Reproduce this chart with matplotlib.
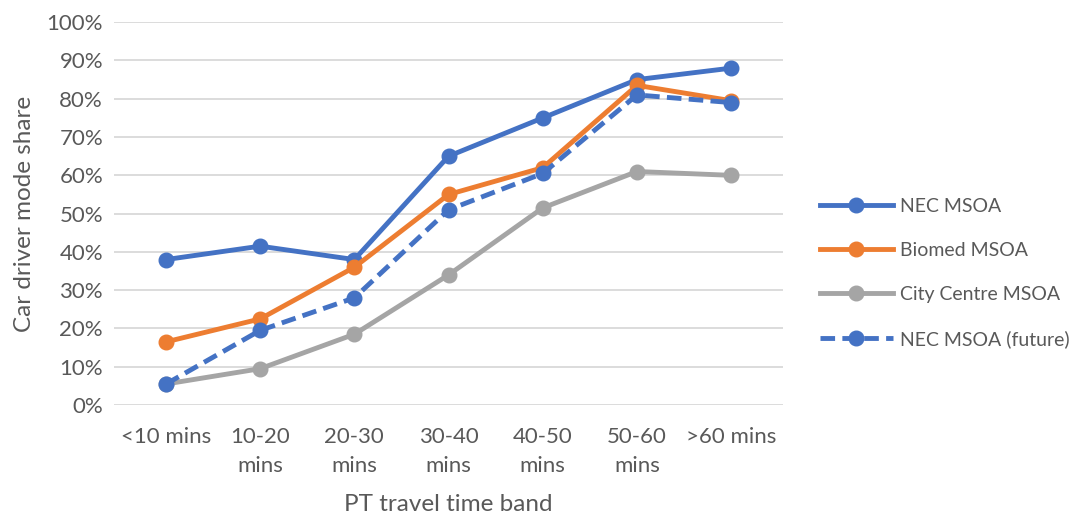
import matplotlib
matplotlib.use("Agg")
import matplotlib.pyplot as plt
from matplotlib.ticker import FuncFormatter

categories = ["<10 mins", "10-20\nmins", "20-30\nmins", "30-40\nmins", "40-50\nmins", "50-60\nmins", ">60 mins"]
nec = [38, 41.5, 38, 65, 75, 85, 88]
biomed = [16.5, 22.5, 36, 55, 62, 83.5, 79.5]
city = [5.5, 9.5, 18.5, 34, 51.5, 61, 60]
nec_future = [5.5, 19.5, 28, 51, 60.5, 81, 79]

plt.rcParams['font.family'] = ['Lato', 'DejaVu Sans']
txt = '#595959'

fig = plt.figure(figsize=(10.77, 5.16), dpi=100)
ax = fig.add_axes([0.106, 0.215, 0.621, 0.742])
x = list(range(len(categories)))

ax.plot(x, nec, color='#4472C4', lw=3.5, marker='o', ms=10.5, label='NEC MSOA', zorder=3)
ax.plot(x, biomed, color='#ED7D31', lw=3.5, marker='o', ms=10.5, label='Biomed MSOA', zorder=4)
ax.plot(x, city, color='#A5A5A5', lw=3.5, marker='o', ms=10.5, label='City Centre MSOA', zorder=2)
ax.plot(x, nec_future, color='#4472C4', lw=3.5, ls=(0, (3, 1.5)), marker='o', ms=10.5,
        label='NEC MSOA (future)', zorder=5)

ax.set_ylim(0, 100)
ax.set_yticks(range(0, 101, 10))
ax.yaxis.set_major_formatter(FuncFormatter(lambda v, p: f"{int(v)}%"))
ax.set_xlim(-0.55, 6.55)
ax.set_xticks(x)
ax.set_xticklabels(categories, linespacing=1.55)
ax.grid(axis='y', color='#D9D9D9', lw=1.3)
ax.set_axisbelow(True)
for s in ax.spines.values():
    s.set_visible(False)
ax.tick_params(axis='y', length=0, labelsize=16, colors=txt, pad=8)
ax.tick_params(axis='x', length=0, labelsize=16, colors=txt, pad=16)
ax.set_ylabel('Car driver mode share', fontsize=17.5, color=txt, labelpad=8)
ax.set_xlabel('PT travel time band', fontsize=17.5, color=txt, labelpad=13)

leg = fig.legend(loc='center left', bbox_to_anchor=(0.745, 0.471), frameon=False,
                 fontsize=14, labelspacing=1.4, handlelength=3.75, handletextpad=0.35)
for t in leg.get_texts():
    t.set_color(txt)

fig.savefig('out.png', dpi=100)
